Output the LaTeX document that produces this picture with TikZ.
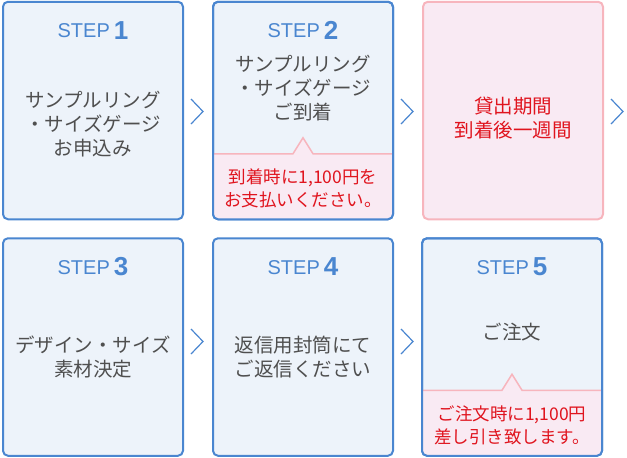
\documentclass[tikz,border=0pt]{standalone}
\usepackage{fontspec}
\setmainfont{Liberation Sans}
\newfontfamily\jp{Noto Sans CJK JP}
\usepackage{xcolor}
\usepackage{tikz}
\usetikzlibrary{positioning}
\definecolor{stepblue}{HTML}{4A86D0}
\definecolor{boxfill}{HTML}{EDF3FA}
\definecolor{pinkline}{HTML}{F7B5BD}
\definecolor{pinkfill}{HTML}{F9EAF3}
\definecolor{notered}{HTML}{E0141E}
\definecolor{textgray}{HTML}{4F4F4F}
\tikzset{stepbox/.style={draw=stepblue, fill=boxfill, line width=2pt, rounded corners=5pt, minimum width=180pt, minimum height=217.5pt, inner sep=0pt, outer sep=0pt}}
\tikzset{rentbox/.style={stepbox, draw=pinkline, fill=pinkfill}}
\tikzset{steplabel/.style={text=stepblue, anchor=base, font=\fontsize{20}{20}\selectfont}}
\tikzset{maintext/.style={text=textgray, align=center, font=\jp\fontsize{19.5}{24}\selectfont}}
\tikzset{rentext/.style={maintext, text=notered}}
\tikzset{notetext/.style={text=notered, align=center, font=\jp\fontsize{17.5}{23}\selectfont}}
\tikzset{chevron/.style={draw=stepblue, line width=1.2pt}}
\newcommand{\stepno}[1]{STEP\hspace{4pt}\raisebox{-1.5pt}{\fontsize{26}{26}\selectfont\bfseries #1}}
\newcommand{\notepanel}[1]{%
\begin{scope}
\clip[rounded corners=5pt] (#1.south west) rectangle (#1.north east);
\fill[pinkfill] ([yshift=-152pt]#1.north west) -- ([xshift=-10pt,yshift=-152pt]#1.north)
  -- ([yshift=-136pt]#1.north) -- ([xshift=10pt,yshift=-152pt]#1.north)
  -- ([yshift=-152pt]#1.north east) -- (#1.south east) -- (#1.south west) -- cycle;
\end{scope}
\draw[pinkline, line width=1.5pt] ([yshift=-152pt]#1.north west) -- ([xshift=-10pt,yshift=-152pt]#1.north)
  -- ([yshift=-136pt]#1.north) -- ([xshift=10pt,yshift=-152pt]#1.north)
  -- ([yshift=-152pt]#1.north east);
\draw[stepblue, line width=2pt, rounded corners=5pt] (#1.south west) rectangle (#1.north east);
}

\begin{document}
\begin{tikzpicture}[x=1pt, y=1pt]
\useasboundingbox (0,0) rectangle (627,-458);
% boxes
\node [stepbox] (s1) at (93,-110.5) {};
\node [stepbox, right=30pt of s1] (s2) {};
\node [rentbox, right=30pt of s2] (s3) {};
\node [stepbox, below=19pt of s1] (s4) {};
\node [stepbox, right=30pt of s4] (s5) {};
\node [stepbox, right=29pt of s5] (s6) {};
\notepanel{s2}
\notepanel{s6}
% step labels
\node [steplabel] (l1) at ([yshift=-36pt]s1.north) {\stepno{1}};
\node [steplabel] (l2) at ([yshift=-36pt]s2.north) {\stepno{2}};
\node [steplabel] (l3) at ([yshift=-36pt]s4.north) {\stepno{3}};
\node [steplabel] (l4) at ([yshift=-36pt]s5.north) {\stepno{4}};
\node [steplabel] (l5) at ([yshift=-36pt]s6.north) {\stepno{5}};
% texts
\node [maintext] (t1) at ([yshift=-122pt]s1.north) {サンプルリング\\・サイズゲージ\\お申込み};
\node [maintext] (t2) at ([yshift=-86pt]s2.north) {サンプルリング\\・サイズゲージ\\ご到着};
\node [rentext] (t3) at ([yshift=-116pt]s3.north) {貸出期間\\到着後一週間};
\node [maintext] (t4) at ([yshift=-119pt]s4.north) {デザイン・サイズ\\素材決定};
\node [maintext] (t5) at ([yshift=-119pt]s5.north) {返信用封筒にて\\ご返信ください};
\node [maintext] (t6) at ([yshift=-94pt]s6.north) {ご注文};
\node [notetext] (n2) at ([yshift=-187pt]s2.north) {到着時に1,100円を\\お支払いください。};
\node [notetext] (n6) at ([yshift=-187pt]s6.north) {ご注文時に1,100円\\差し引き致します。};
% chevrons
\foreach \b/\dy in {s1/-1, s2/-1, s3/-1, s4/5.5, s5/5.5}
  \draw [chevron] ([xshift=8pt,yshift=\dy pt+12.5pt]\b.east) -- ([xshift=20pt,yshift=\dy pt]\b.east) -- ([xshift=8pt,yshift=\dy pt-12.5pt]\b.east);
\end{tikzpicture}
\end{document}
